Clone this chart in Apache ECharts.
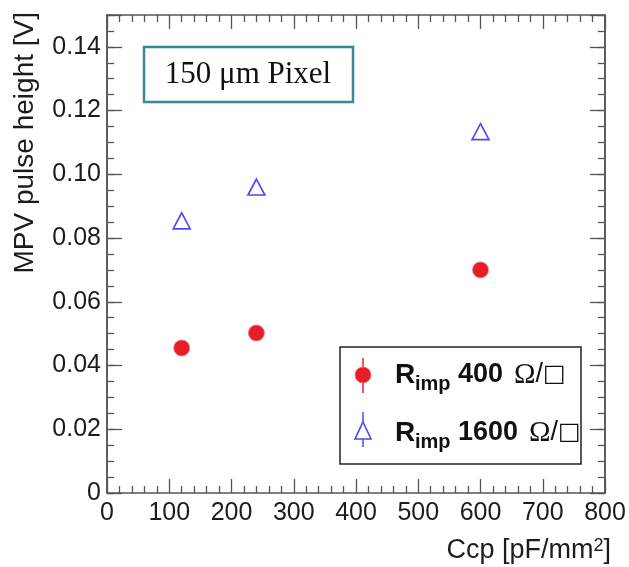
<!DOCTYPE html>
<html>
<head>
<meta charset="utf-8">
<script src="https://cdn.jsdelivr.net/npm/echarts@6/dist/echarts.min.js"></script>
<style>
  html, body { margin: 0; padding: 0; background: #fff; }
  #chart { width: 629px; height: 567px; }
</style>
</head>
<body>
<div id="chart"></div>
<script>
// Capacitance values [pF/mm^2]
const ccp = [120, 240, 600];
// MPV pulse heights [V]
const mpv400 = [0.0455, 0.0502, 0.0700];
const mpv1600 = [0.0854, 0.0960, 0.1134];

const xTicks = { min: 0, max: 800, major: 100 };
const yTicks = { min: 0, max: 0.15, major: 0.02, minor: 0.005 };

const seriesNames = ['R_imp 400', 'R_imp 1600'];

const SANS = 'Liberation Sans, Arial, sans-serif';
const SERIF = 'Liberation Serif, Times New Roman, serif';
const FRAME = '#555';
const TEXT = '#1b1b22';

const toPairs = (xs, ys) => xs.map((x, i) => [x, ys[i]]);

const chart = echarts.init(document.getElementById('chart'), null, { renderer: 'canvas' });

function xAxisDef(pos, showLabels) {
  return {
    type: 'value', position: pos, min: xTicks.min, max: xTicks.max, interval: xTicks.major,
    axisLine: { show: true, onZero: false, lineStyle: { color: FRAME, width: 1.5 } },
    axisTick: { show: true, inside: true, length: 14, lineStyle: { color: FRAME, width: 1.3 } },
    minorTick: { show: true, splitNumber: 5, length: 7, lineStyle: { color: FRAME, width: 1.3 } },
    splitLine: { show: false },
    axisLabel: showLabels ? { show: true, fontSize: 25, fontFamily: SANS, color: TEXT, margin: 8 } : { show: false }
  };
}

function yAxisDef(pos, step, tickLen, showLabels) {
  return {
    type: 'value', position: pos, min: yTicks.min, max: yTicks.max, interval: step,
    axisLine: { show: true, onZero: false, lineStyle: { color: FRAME, width: 1.5 } },
    axisTick: { show: true, inside: true, length: tickLen, lineStyle: { color: FRAME, width: 1.3 } },
    splitLine: { show: false },
    axisLabel: showLabels ? {
      show: true, fontSize: 25, fontFamily: SANS, color: TEXT, margin: 6,
      formatter: v => (v === 0 ? '0' : (v > 0.141 ? '' : v.toFixed(2)))
    } : { show: false }
  };
}

const legendX = 340, legendY = 347, legendW = 241, legendH = 117;
const row1 = 375, row2 = 433;

function legendLabel(y, value) {
  return [
    { type: 'text', x: 395, y: y, style: { text: 'R', font: 'bold 28px ' + SANS, fill: '#111', verticalAlign: 'middle' } },
    { type: 'text', x: 415, y: y + 9, style: { text: 'imp', font: 'bold 20px ' + SANS, fill: '#111', verticalAlign: 'middle' } },
    { type: 'text', x: 458, y: y, style: {
        text: '{n|' + value + '}{o|Ω}{d|/}{b|□}',
        verticalAlign: 'middle',
        rich: {
          n: { fontSize: 27, fontWeight: 'bold', fontFamily: SANS, fill: '#111' },
          o: { fontSize: 29, fontFamily: SERIF, fill: '#111', padding: [0, 0, 0, 11] },
          d: { fontSize: 27, fontFamily: SANS, fill: '#111' },
          b: { fontSize: 24, fontWeight: 'bold', fontFamily: 'DejaVu Sans', fill: '#111' }
        }
      } }
  ];
}

const option = {
  backgroundColor: '#fff',
  animation: false,
  grid: { left: 107, right: 24, top: 15, bottom: 74, containLabel: false },
  xAxis: [xAxisDef('bottom', true), xAxisDef('top', false)],
  yAxis: [
    yAxisDef('left', yTicks.major, 15, true),
    yAxisDef('left', yTicks.minor, 7, false),
    yAxisDef('right', yTicks.major, 15, false),
    yAxisDef('right', yTicks.minor, 7, false)
  ],
  series: [
    {
      name: seriesNames[0], type: 'scatter', xAxisIndex: 0, yAxisIndex: 0,
      symbol: 'circle', symbolSize: 16,
      itemStyle: { color: '#e61e28', borderColor: 'rgba(240,120,130,0.8)', borderWidth: 1, opacity: 1 },
      data: toPairs(ccp, mpv400)
    },
    {
      name: seriesNames[1], type: 'scatter', xAxisIndex: 0, yAxisIndex: 0,
      symbol: 'triangle', symbolSize: [17, 16],
      itemStyle: { color: 'rgba(0,0,0,0)', borderColor: '#4a4af0', borderWidth: 1.6, opacity: 1 },
      data: toPairs(ccp, mpv1600)
    }
  ],
  graphic: [
    // axis titles
    { type: 'text', x: 25, y: 12, rotation: Math.PI / 2,
      style: { text: 'MPV pulse height [V]', font: '28px ' + SANS, fill: TEXT, align: 'right', verticalAlign: 'middle' } },
    { type: 'text', x: 611, y: 551,
      style: {
        text: '{a|Ccp [pF/mm}{s|2}{a|]}', align: 'right', verticalAlign: 'middle',
        rich: {
          a: { fontSize: 27, fontFamily: SANS, fill: TEXT },
          s: { fontSize: 18, fontFamily: SANS, fill: TEXT, verticalAlign: 'top' }
        }
      } },
    // pixel-size caption
    { type: 'rect', shape: { x: 144, y: 47, width: 209, height: 55 },
      style: { fill: '#fff', stroke: '#3b8893', lineWidth: 2.5 } },
    { type: 'text', x: 248, y: 75,
      style: { text: '150 μm Pixel', font: '31px ' + SERIF, fill: '#111', align: 'center', verticalAlign: 'middle' } },
    // legend
    { type: 'rect', shape: { x: legendX, y: legendY, width: legendW, height: legendH },
      style: { fill: '#fff', stroke: '#222', lineWidth: 1.5 } },
    { type: 'line', shape: { x1: 363, y1: row1 - 17, x2: 363, y2: row1 + 18 }, style: { stroke: '#e61e28', lineWidth: 1.5 } },
    { type: 'circle', shape: { cx: 363, cy: row1, r: 8 }, style: { fill: '#e61e28', stroke: 'rgba(240,120,130,0.8)', lineWidth: 1 } },
    { type: 'line', shape: { x1: 363, y1: row2 - 21, x2: 363, y2: row2 - 11 }, style: { stroke: '#4a4af0', lineWidth: 1.5 } },
    { type: 'line', shape: { x1: 363, y1: row2 + 6, x2: 363, y2: row2 + 14 }, style: { stroke: '#4a4af0', lineWidth: 1.5 } },
    { type: 'polygon', shape: { points: [[363, row2 - 11], [371, row2 + 6], [355, row2 + 6]] },
      style: { fill: '#fff', stroke: '#4a4af0', lineWidth: 1.6 } },
    ...legendLabel(row1, '400'),
    ...legendLabel(row2, '1600')
  ]
};

chart.setOption(option);
</script>
</body>
</html>
